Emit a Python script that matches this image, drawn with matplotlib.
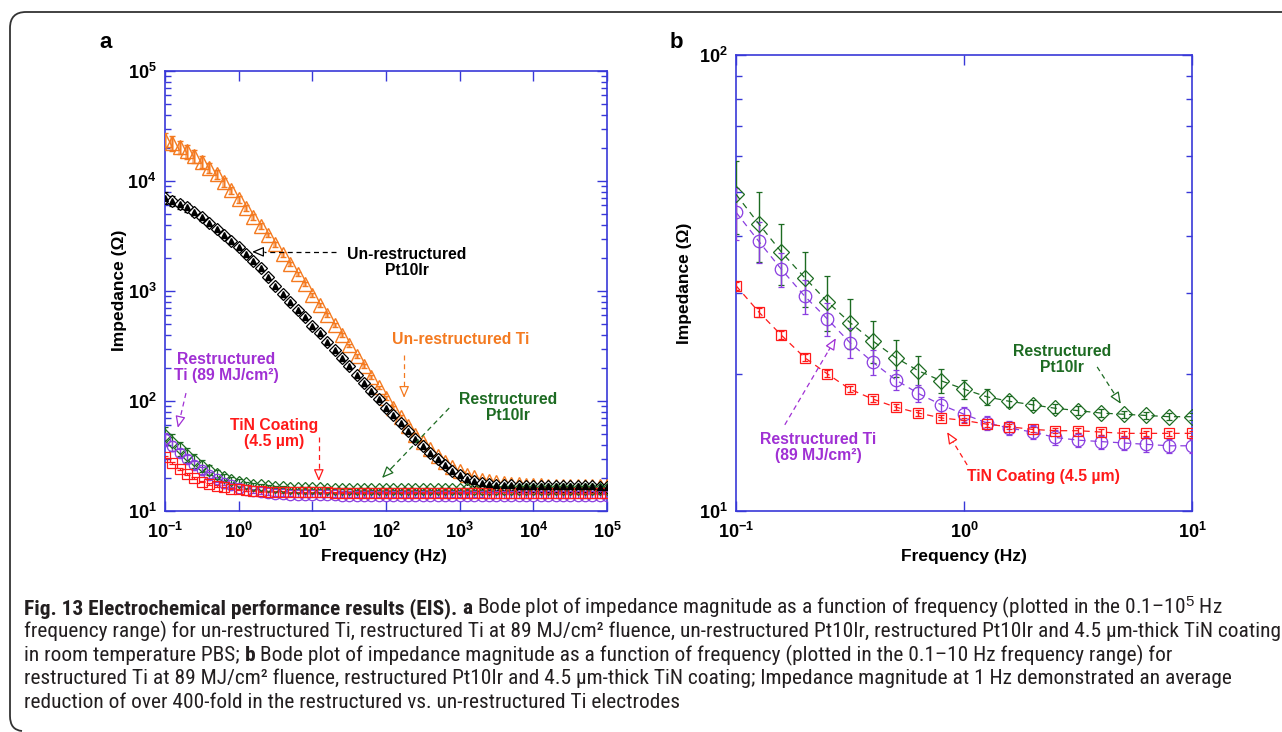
import numpy as np
import matplotlib
matplotlib.use('Agg')
import matplotlib.pyplot as plt
from matplotlib import font_manager
from matplotlib.ticker import LogLocator, NullLocator, FixedLocator, FuncFormatter, NullFormatter
from matplotlib.path import Path
from matplotlib.patches import PathPatch

# ---------------- data ----------------
FREQ = [0.1, 0.126, 0.158, 0.2, 0.251, 0.316, 0.398, 0.501, 0.631, 0.794,
        1.0, 1.26, 1.58, 2.0, 2.51, 3.16, 3.98, 5.01, 6.31, 7.94,
        10.0, 12.6, 15.8, 20.0, 25.1, 31.6, 39.8, 50.1, 63.1, 79.4,
        100, 126, 158, 200, 251, 316, 398, 501, 631, 794,
        1000, 1260, 1580, 2000, 2510, 3160, 3980, 5010, 6310, 7940,
        10000, 12600, 15800, 20000, 25100, 31600, 39800, 50100, 63100, 79400,
        100000]

# Un-restructured Ti (orange triangles)
Z_TI_UNR = [23820, 22130, 20420, 18620, 16790, 14960, 13180, 11480, 9770, 8220,
            6820, 5690, 4730, 3920, 3240, 2660, 2160, 1760, 1430, 1150,
            923, 750, 610, 495, 398, 320, 257, 207, 166, 133,
            107, 87, 72, 59, 49.5, 42.2, 36.3, 31.6, 27.9, 25.1,
            22.9, 21.4, 20.2, 19.3, 18.6, 18.2, 17.9, 17.6, 17.5, 17.3,
            17.2, 17.1, 17.05, 17.0, 17.0, 16.95, 16.9, 16.9, 16.85, 16.8,
            16.8]
REL_ERR_TI_UNR = [0.15, 0.15, 0.14, 0.14, 0.13, 0.12, 0.11, 0.10, 0.09, 0.08,
                  0.07, 0.07, 0.06, 0.06, 0.05, 0.05, 0.05, 0.04, 0.04, 0.04,
                  0.04, 0.04, 0.04, 0.04, 0.04, 0.04, 0.04, 0.04, 0.04, 0.04,
                  0.04, 0.04, 0.04, 0.04, 0.04, 0.04, 0.04, 0.04, 0.04, 0.04,
                  0.03, 0.03, 0.03, 0.03, 0.03, 0.03, 0.03, 0.03, 0.03, 0.03,
                  0.03, 0.03, 0.03, 0.03, 0.03, 0.03, 0.03, 0.03, 0.03, 0.03,
                  0.03]

# Un-restructured Pt10Ir (black)
Z_PT_UNR = [7079, 6607, 6166, 5754, 5188, 4677, 4121, 3631, 3199, 2851,
            2512, 2188, 1884, 1603, 1334, 1122, 944, 794, 676, 575,
            484, 412, 347, 292, 245, 207, 174, 146, 123, 104,
            87.1, 74.1, 63.1, 53.1, 45.2, 38.9, 33.9, 29.5, 26.0, 23.2,
            21.1, 19.5, 18.6, 18.0, 17.6, 17.4, 17.2, 17.1, 17.0, 17.0,
            16.9, 16.9, 16.85, 16.85, 16.8, 16.8, 16.8, 16.75, 16.75, 16.7,
            16.7]
REL_ERR_PT_UNR = [0.12, 0.11, 0.10, 0.09, 0.08, 0.07, 0.06, 0.06, 0.05, 0.05,
                  0.05, 0.05, 0.05, 0.05, 0.05, 0.05, 0.05, 0.05, 0.05, 0.05,
                  0.04, 0.04, 0.04, 0.04, 0.04, 0.04, 0.04, 0.04, 0.04, 0.04,
                  0.03, 0.03, 0.03, 0.03, 0.03, 0.03, 0.03, 0.03, 0.03, 0.03,
                  0.03, 0.03, 0.03, 0.03, 0.03, 0.03, 0.03, 0.03, 0.03, 0.03,
                  0.03, 0.03, 0.03, 0.03, 0.03, 0.03, 0.03, 0.03, 0.03, 0.03,
                  0.03]

# Restructured Pt10Ir (green diamonds)
Z_PT_RES = [49.5, 42.6, 37.0, 32.5, 28.8, 25.9, 23.6, 21.7, 20.3, 19.3,
            18.5, 17.8, 17.4, 17.1, 16.8, 16.6, 16.4, 16.3, 16.2, 16.1,
            16.1, 16.1, 16.0, 16.0, 16.0, 16.0, 15.9, 15.9, 15.9, 15.9,
            15.9, 15.9, 15.8, 15.8, 15.8, 15.8, 15.8, 15.8, 15.8, 15.8,
            15.8, 15.8, 15.8, 15.8, 15.8, 15.8, 15.8, 15.8, 15.8, 15.8,
            15.8, 15.8, 15.7, 15.7, 15.7, 15.7, 15.7, 15.7, 15.7, 15.7,
            15.7]
ERR_PT_RES = [9.0, 7.5, 5.7, 4.5, 4.0, 3.2, 2.5, 2.0, 1.6, 1.2,
              0.9, 0.7, 0.5, 0.45, 0.4, 0.35, 0.35, 0.3, 0.3, 0.3,
              0.3, 0.3, 0.3, 0.3, 0.3, 0.3, 0.3, 0.3, 0.3, 0.3,
              0.3, 0.3, 0.3, 0.3, 0.3, 0.3, 0.3, 0.3, 0.3, 0.3,
              0.3, 0.3, 0.3, 0.3, 0.3, 0.3, 0.3, 0.3, 0.3, 0.3,
              0.3, 0.3, 0.3, 0.3, 0.3, 0.3, 0.3, 0.3, 0.3, 0.3,
              0.3]

# Restructured Ti, 89 MJ/cm2 (purple circles)
Z_TI_RES = [45.2, 39.0, 33.9, 29.6, 26.4, 23.4, 21.2, 19.4, 18.1, 17.1,
            16.3, 15.6, 15.2, 14.9, 14.5, 14.3, 14.2, 14.1, 14.0, 13.9,
            13.9, 13.9, 13.9, 13.9, 13.8, 13.8, 13.8, 13.8, 13.8, 13.8,
            13.8, 13.8, 13.8, 13.8, 13.8, 13.8, 13.8, 13.8, 13.8, 13.8,
            13.8, 13.8, 13.8, 13.8, 13.7, 13.7, 13.7, 13.7, 13.7, 13.7,
            13.7, 13.7, 13.7, 13.7, 13.7, 13.7, 13.7, 13.7, 13.7, 13.7,
            13.7]
ERR_TI_RES = [6.0, 4.0, 2.9, 2.5, 2.2, 1.8, 1.3, 1.0, 0.8, 0.7,
              0.6, 0.55, 0.55, 0.55, 0.55, 0.5, 0.5, 0.5, 0.5, 0.5,
              0.5, 0.5, 0.5, 0.5, 0.5, 0.5, 0.5, 0.5, 0.5, 0.5,
              0.5, 0.5, 0.5, 0.5, 0.5, 0.5, 0.5, 0.5, 0.5, 0.5,
              0.5, 0.5, 0.5, 0.5, 0.5, 0.5, 0.5, 0.5, 0.5, 0.5,
              0.5, 0.5, 0.5, 0.5, 0.5, 0.5, 0.5, 0.5, 0.5, 0.5,
              0.5]

# TiN coating 4.5 um (red squares)
Z_TIN = [31.2, 27.3, 24.3, 21.7, 20.0, 18.5, 17.6, 16.9, 16.4, 16.0,
         15.8, 15.5, 15.3, 15.1, 15.0, 15.0, 14.9, 14.8, 14.8, 14.8,
         14.8, 14.8, 14.8, 14.7, 14.7, 14.7, 14.7, 14.7, 14.7, 14.7,
         14.7, 14.7, 14.7, 14.7, 14.7, 14.7, 14.7, 14.7, 14.7, 14.7,
         14.7, 14.7, 14.6, 14.6, 14.6, 14.6, 14.6, 14.6, 14.6, 14.6,
         14.6, 14.6, 14.6, 14.6, 14.6, 14.6, 14.6, 14.6, 14.6, 14.6,
         14.6]
ERR_TIN = [0.6, 0.6, 0.5, 0.4, 0.35, 0.3, 0.3, 0.25, 0.25, 0.2,
           0.2, 0.2, 0.2, 0.2, 0.2, 0.2, 0.2, 0.2, 0.2, 0.2,
           0.2, 0.2, 0.2, 0.2, 0.2, 0.2, 0.2, 0.2, 0.2, 0.2,
           0.2, 0.2, 0.2, 0.2, 0.2, 0.2, 0.2, 0.2, 0.2, 0.2,
           0.2, 0.2, 0.2, 0.2, 0.2, 0.2, 0.2, 0.2, 0.2, 0.2,
           0.2, 0.2, 0.2, 0.2, 0.2, 0.2, 0.2, 0.2, 0.2, 0.2,
           0.2]

N_B = 21  # panel b shows 0.1 - 10 Hz

X_TICKS_A = [0.1, 1, 10, 100, 1000, 10000, 100000]
Y_TICKS_A = [10, 100, 1000, 10000, 100000]
X_TICKS_B = [0.1, 1, 10]
Y_TICKS_B = [10, 100]

# ---------------- style ----------------
names = {f.name for f in font_manager.fontManager.ttflist}
MAIN = 'Liberation Sans' if 'Liberation Sans' in names else 'DejaVu Sans'
CAP = next((n for n in ['Liberation Sans Narrow', 'Roboto Condensed', 'Open Sans Condensed',
                        'Liberation Sans'] if n in names), 'DejaVu Sans')

plt.rcParams['font.family'] = [MAIN, 'DejaVu Sans']
plt.rcParams['mathtext.fontset'] = 'custom'
plt.rcParams['mathtext.rm'] = MAIN
plt.rcParams['mathtext.bf'] = MAIN + ':bold'
plt.rcParams['mathtext.it'] = MAIN + ':italic'

ORANGE = '#f47a20'
BLACK = '#000000'
GREEN = '#1d6b22'
PURPLE = '#8a3ee0'
PURPLE_TXT = '#a030d4'
RED = '#ff1a1a'
SPINE = '#3838d8'

W, H = 1282, 732
fig = plt.figure(figsize=(W / 100, H / 100), dpi=100)


def fx(px):
    return px / W


def fy(py):
    return 1 - py / H


axA = fig.add_axes([fx(165), fy(511), 442 / W, 440 / H])
axB = fig.add_axes([fx(736), fy(511), 456 / W, 456 / H])

f = np.array(FREQ)


def rel_err(vals, rel):
    return np.array(vals) * np.array(rel)


# ---- panel a ----
eb_kw = dict(ls='none', capsize=2.5, elinewidth=0.9, capthick=0.9)
axA.errorbar(f, Z_TI_UNR, yerr=rel_err(Z_TI_UNR, REL_ERR_TI_UNR), ls='none',
             ecolor='#f8b07c', elinewidth=2.6, capsize=0, zorder=2)
axA.errorbar(f, Z_TI_UNR, yerr=rel_err(Z_TI_UNR, REL_ERR_TI_UNR), fmt='^', ms=9.5,
             mfc='none', mec=ORANGE, mew=1.0, ecolor=ORANGE, zorder=3, **eb_kw)
axA.errorbar(f, Z_PT_UNR, yerr=rel_err(Z_PT_UNR, REL_ERR_PT_UNR), fmt='D', ms=6.5,
             mfc='white', mec=BLACK, mew=0.9, ecolor=BLACK, zorder=4, **eb_kw)
axA.plot(f, Z_PT_UNR, '^', ms=5, color=BLACK, zorder=5)
axA.errorbar(f, Z_PT_RES, yerr=ERR_PT_RES, fmt='D', ms=6, mfc='none', mec=GREEN,
             mew=0.9, ecolor=GREEN, zorder=4, **eb_kw)
axA.errorbar(f, Z_TI_RES, yerr=ERR_TI_RES, fmt='o', ms=7.5, mfc='none', mec=PURPLE,
             mew=0.9, ecolor=PURPLE, zorder=4, **eb_kw)
axA.errorbar(f, Z_TIN, yerr=ERR_TIN, fmt='s', ms=6.5, mfc='none', mec=RED,
             mew=0.9, ecolor=RED, zorder=4, **eb_kw)

axA.set_xscale('log')
axA.set_yscale('log')
axA.set_xlim(0.1, 1e5)
axA.set_ylim(10, 1e5)

# ---- panel b ----
fb = f[:N_B]
dash = (0, (5, 4))
for vals, err, mk, ms, col in [(Z_PT_RES, ERR_PT_RES, 'D', 8, GREEN),
                               (Z_TI_RES, ERR_TI_RES, 'o', 9, PURPLE),
                               (Z_TIN, ERR_TIN, 's', 7.5, RED)]:
    axB.errorbar(fb, vals[:N_B], yerr=err[:N_B], fmt=mk, ms=ms, mfc='none', mec=col,
                 mew=0.9, ecolor=col, elinewidth=1.0, capsize=2.5, capthick=0.9,
                 ls=dash, lw=0.9, color=col, zorder=3)
axB.set_xscale('log')
axB.set_yscale('log')
axB.set_xlim(0.1, 10)
axB.set_ylim(10, 100)


def pow_fmt(v, pos):
    e = int(round(np.log10(v)))
    return r'$\mathbf{10^{%d}}$' % e


for ax, xt, yt in [(axA, X_TICKS_A, Y_TICKS_A), (axB, X_TICKS_B, Y_TICKS_B)]:
    ax.xaxis.set_major_locator(FixedLocator(xt))
    ax.yaxis.set_major_locator(FixedLocator(yt))
    ax.xaxis.set_minor_locator(NullLocator())
    ax.yaxis.set_minor_locator(LogLocator(base=10, subs=np.arange(2, 10)))
    ax.yaxis.set_minor_formatter(NullFormatter())
    ax.xaxis.set_major_formatter(FuncFormatter(pow_fmt))
    ax.yaxis.set_major_formatter(FuncFormatter(pow_fmt))
    ax.tick_params(which='both', direction='in', top=True, right=True, color=SPINE,
                   labelsize=13, labelcolor='black', width=1.0)
    ax.tick_params(which='major', length=7)
    ax.tick_params(axis='x', which='major', pad=8)
    ax.tick_params(axis='y', which='major', pad=6)
    ax.tick_params(which='minor', length=4)
    for s in ax.spines.values():
        s.set_color(SPINE)
        s.set_linewidth(1.2)


# ---- annotations ----
def arrow(ax, start, end, color):
    s = np.array(start)
    e = np.array(end)
    mid = s + (e - s) * 0.86
    ax.plot([s[0], mid[0]], [s[1], mid[1]], transform=ax.transAxes, color=color,
            lw=0.9, ls=(0, (4, 3)), zorder=6)
    ax.annotate('', xy=tuple(e), xytext=tuple(mid), xycoords='axes fraction',
                textcoords='axes fraction',
                arrowprops=dict(arrowstyle='-|>,head_length=0.7,head_width=0.3',
                                color=color, lw=0.9, fc='white', shrinkA=0, shrinkB=0),
                zorder=6)


def label(ax, pos, text, color, ls=1.1):
    ax.text(pos[0], pos[1], text, transform=ax.transAxes, ha='center', va='center',
            fontsize=11.3, fontweight='bold', color=color, linespacing=ls, zorder=7)


label(axA, (0.5475, 0.564), 'Un-restructured\nPt10Ir', BLACK)
arrow(axA, (0.387, 0.589), (0.197, 0.589), BLACK)
label(axA, (0.670, 0.389), 'Un-restructured Ti', ORANGE)
arrow(axA, (0.541, 0.355), (0.541, 0.257), ORANGE)
label(axA, (0.776, 0.236), 'Restructured\nPt10Ir', GREEN)
arrow(axA, (0.643, 0.234), (0.491, 0.075), GREEN)
label(axA, (0.138, 0.327), 'Restructured\nTi (89 MJ/cm²)', PURPLE_TXT)
arrow(axA, (0.0475, 0.268), (0.029, 0.189), PURPLE_TXT)
label(axA, (0.247, 0.177), 'TiN Coating\n(4.5 µm)', RED)
arrow(axA, (0.348, 0.168), (0.348, 0.068), RED)

label(axB, (0.715, 0.333), 'Restructured\nPt10Ir', GREEN)
arrow(axB, (0.792, 0.316), (0.844, 0.235), GREEN)
label(axB, (0.180, 0.140), 'Restructured Ti\n(89 MJ/cm²)', PURPLE_TXT)
arrow(axB, (0.107, 0.189), (0.219, 0.379), PURPLE_TXT)
label(axB, (0.675, 0.0746), 'TiN Coating (4.5 µm)', RED)
arrow(axB, (0.507, 0.101), (0.463, 0.173), RED)

# axis titles and panel letters
for x in (119, 684):
    yc = 290 if x == 119 else 283
    fig.text(fx(x), fy(yc), 'Impedance (Ω)', rotation=90, ha='center', va='center',
             fontsize=12.5, fontweight='bold')
for x in (384, 964):
    fig.text(fx(x), fy(557), 'Frequency (Hz)', ha='center', va='center',
             fontsize=12.5, fontweight='bold')
fig.text(fx(106), fy(42), 'a', ha='center', va='center', fontsize=16, fontweight='bold')
fig.text(fx(676), fy(42), 'b', ha='center', va='center', fontsize=16, fontweight='bold')

# frame (rounded, open on the right)
verts = [(W + 2, 12), (26, 12), (10, 12), (10, 28), (10, 716), (10, 730), (22, 731)]
codes = [Path.MOVETO, Path.LINETO, Path.CURVE3, Path.CURVE3, Path.LINETO,
         Path.CURVE3, Path.CURVE3]
verts_f = [(fx(a), fy(b)) for a, b in verts]
fig.add_artist(PathPatch(Path(verts_f, codes), transform=fig.transFigure, fill=False,
                         ec='#333333', lw=1.3, clip_on=False))

# ---- caption ----
renderer = fig.canvas.get_renderer()
CAP_LINES = [
    [('Fig. 13 Electrochemical performance results (EIS).', 'bold'), ('a', 'bold'),
     ('Bode plot of impedance magnitude as a function of frequency (plotted in the 0.1–10$^{5}$ Hz', 'normal')],
    [('frequency range) for un-restructured Ti, restructured Ti at 89 MJ/cm² fluence, un-restructured Pt10Ir, restructured Pt10Ir and 4.5 µm-thick TiN coating', 'normal')],
    [('in room temperature PBS;', 'normal'), ('b', 'bold'),
     ('Bode plot of impedance magnitude as a function of frequency (plotted in the 0.1–10 Hz frequency range) for', 'normal')],
    [('restructured Ti at 89 MJ/cm² fluence, restructured Pt10Ir and 4.5 µm-thick TiN coating; Impedance magnitude at 1 Hz demonstrated an average', 'normal')],
    [('reduction of over 400-fold in the restructured vs. un-restructured Ti electrodes', 'normal')],
]
CAP_BASE = [614, 637, 661, 684, 708]
CAP_FAM = [CAP, 'DejaVu Sans']


def text_width(s, size, weight):
    t = fig.text(0, 0, s, fontsize=size, fontweight=weight, family=CAP_FAM)
    w = t.get_window_extent(renderer).width
    t.remove()
    return w


def line_width(segs, size):
    sp = text_width('x x', size, 'normal') - text_width('xx', size, 'normal')
    return sum(text_width(s, size, w) for s, w in segs) + sp * (len(segs) - 1), sp


base_size = 12.0
w2, _ = line_width(CAP_LINES[1], base_size)
cap_size = base_size * (1280 - 24) / w2

for segs, yb in zip(CAP_LINES, CAP_BASE):
    _, sp = line_width(segs, cap_size)
    x = 24
    for s, w in segs:
        t = fig.text(fx(x), fy(yb), s, fontsize=cap_size, fontweight=w, family=CAP_FAM,
                     ha='left', va='baseline', color='#231f20')
        x += t.get_window_extent(renderer).width + sp

fig.savefig('out.png', dpi=100)
